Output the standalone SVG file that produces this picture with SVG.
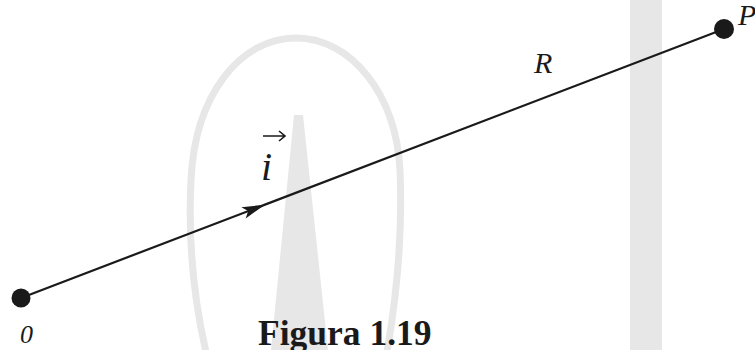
<svg xmlns="http://www.w3.org/2000/svg" width="755" height="350" viewBox="0 0 755 350">
  <style>
    .wm { fill: #e7e7e7; }
    .wmline { fill: none; stroke: #e7e7e7; stroke-width: 7; }
    .lbl { font-family: "Liberation Serif", "Times New Roman", serif; font-style: italic; fill: #1a1a1a; }
    .cap { font-family: "Liberation Serif", "Times New Roman", serif; font-weight: bold; fill: #1a1a1a; }
    .conn { fill: none; stroke: #1a1a1a; stroke-width: 2.2; }
    .dot { fill: #1a1a1a; }
  </style>
  <defs>
    <marker id="arr" markerUnits="userSpaceOnUse" refX="0" refY="0" markerWidth="30" markerHeight="30" orient="auto" viewBox="-25 -10 30 20" overflow="visible">
      <path d="M0,0 L-23,-6 L-18,0 L-23,6 Z" fill="#1a1a1a"/>
    </marker>
  </defs>
  <rect width="755" height="350" fill="#ffffff"/>
  <g id="watermark">
    <path class="wmline" d="M 206 352 C 194 300, 188 240, 191 180 C 195 95, 240 38, 296 38 C 352 38, 396 95, 400 170 C 403 240, 396 300, 387 352"/>
    <polygon class="wm" points="294,115 303,115 328,350 271,350"/>
    <rect class="wm" x="630" y="0" width="32" height="350"/>
  </g>
  <g id="connectors">
    <polyline class="conn" points="21,298 265,204.63 724,29" marker-mid="url(#arr)"/>
  </g>
  <g id="node-O">
    <circle class="dot" cx="21" cy="298" r="9.5"/>
    <text class="lbl" x="20" y="343" font-size="26">0</text>
  </g>
  <g id="node-P">
    <circle class="dot" cx="724" cy="29" r="10"/>
    <text class="lbl" x="738" y="25" font-size="30">P</text>
  </g>
  <g id="label-R">
    <text class="lbl" x="534" y="73" font-size="30">R</text>
  </g>
  <g id="label-i">
    <text class="lbl" x="261" y="180" font-size="40">i</text>
    <path d="M263,136 L285,136 M279,131 L285,136 L279,141" fill="none" stroke="#1a1a1a" stroke-width="1.6"/>
  </g>
  <g id="caption">
    <text class="cap" x="258" y="345" font-size="35.5">Figura 1.19</text>
  </g>
</svg>
